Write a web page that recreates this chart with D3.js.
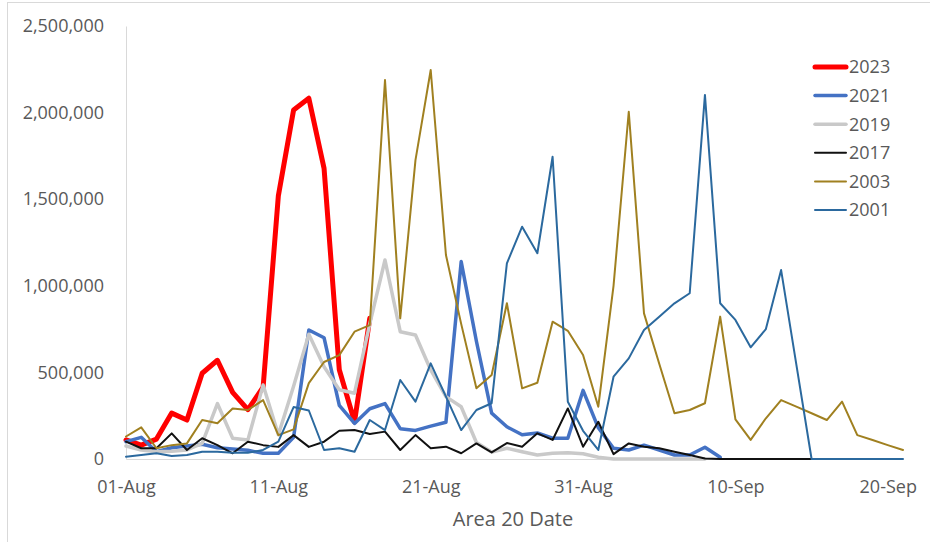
<html>
    <head>
        <style>
            body { margin: 0; background: #fff; }
            text { font-family: "Open Sans", sans-serif; fill: #595959; }
            .axis path { stroke: #d9d9d9; }
        </style>
        <script src="https://cdnjs.cloudflare.com/ajax/libs/d3/7.8.5/d3.min.js"></script>
    </head>
    <body>
        <script>
        var width = 930;
        var height = 542;

        // day index 0 = 01-Aug
        var xTickDays = [0, 10, 20, 30, 40, 50];
        var xTickLabels = ["01-Aug", "11-Aug", "21-Aug", "31-Aug", "10-Sep", "20-Sep"];
        var yTicks = [0, 500000, 1000000, 1500000, 2000000, 2500000];

        var years = ["2023", "2021", "2019", "2017", "2003", "2001"];
        var colors = ["#ff0000", "#4472c4", "#c9c9c9", "#111111", "#a08020", "#2b699e"];
        var widths = [5, 3.5, 3.5, 2, 2, 2];

        var v2023 = [110000, 80000, 115000, 265000, 225000, 495000, 570000, 385000, 285000, 415000,
            1520000, 2015000, 2083000, 1678000, 515000, 215000, 812000];
        var v2021 = [100000, 125000, 42000, 65000, 75000, 85000, 65000, 58000, 50000, 33000,
            33000, 125000, 745000, 700000, 310000, 205000, 290000, 320000, 175000, 165000,
            190000, 212000, 1140000, 680000, 265000, 186000, 140000, 150000, 120000, 120000,
            396000, 180000, 62000, 52000, 80000, 52000, 23000, 23000, 68000, 10000];
        var v2019 = [75000, 52000, 42000, 45000, 52000, 90000, 320000, 120000, 110000, 427000,
            140000, 420000, 720000, 533000, 400000, 380000, 780000, 1149000, 735000, 716000,
            514000, 360000, 302000, 95000, 40000, 62000, 42000, 23000, 33000, 36000,
            30000, 10000, 0, 0, 0, 0, 0, 0, 0];
        var v2017 = [100000, 62000, 62000, 148000, 52000, 120000, 80000, 33000, 100000, 80000,
            70000, 138000, 70000, 100000, 163000, 167000, 144000, 158000, 52000, 138000,
            62000, 71000, 33000, 90000, 38000, 92000, 71000, 148000, 110000, 292000,
            71000, 215000, 28000, 90000, 71000, 62000, 42000, 23000, 3000, 0,
            0, 0, 0, 0, 0, 0];
        var v2003 = [130000, 183000, 62000, 80000, 90000, 225000, 206000, 292000, 283000, 340000,
            138000, 171000, 438000, 560000, 600000, 735000, 773000, 2188000, 812000, 1726000,
            2246000, 1178000, 780000, 408000, 485000, 899000, 408000, 440000, 793000, 740000,
            600000, 302000, 1000000, 2005000, 841000, 550000, 264000, 283000, 322000, 822000,
            229000, 110000, 235000, 340000, 302000, 264000, 225000, 331000, 138000, 110000,
            80000, 52000];
        var v2001 = [13000, 23000, 33000, 17000, 23000, 42000, 42000, 36000, 36000, 52000,
            100000, 300000, 280000, 52000, 62000, 42000, 225000, 167000, 456000, 331000,
            552000, 360000, 167000, 283000, 322000, 1130000, 1341000, 1188000, 1745000, 331000,
            163000, 52000, 475000, 581000, 745000, 822000, 899000, 957000, 2102000, 899000,
            803000, 645000, 750000, 1091000, 545000, 0, 0, 0, 0, 0,
            0, 0];

        var seriesValues = [v2023, v2021, v2019, v2017, v2003, v2001];

        var svg = d3.select("body")
                    .append("svg")
                    .attr("width", width)
                    .attr("height", height);

        // outer chart frame
        svg.append("rect")
            .attr("x", 7.5)
            .attr("y", 2.5)
            .attr("width", 1000)
            .attr("height", 1000)
            .attr("fill", "none")
            .attr("stroke", "#d9d9d9");

        var x = d3.scaleLinear().domain([0, 51]).range([126, 903]);
        var y = d3.scaleLinear().domain([0, 2500000]).range([459, 26]);

        svg.append("g")
            .attr("class", "axis")
            .attr("transform", "translate(126,0)")
            .call(d3.axisLeft(y)
                .tickValues(yTicks)
                .tickFormat(d3.format(","))
                .tickSize(0)
                .tickPadding(22))
            .call(g => g.selectAll("text")
                .style("font-size", "18px")
                .style("font-family", "'Open Sans', sans-serif")
                .attr("fill", "#595959"));

        svg.append("g")
            .attr("class", "axis")
            .attr("transform", "translate(0,459)")
            .call(d3.axisBottom(x)
                .tickValues(xTickDays)
                .tickFormat((d, i) => xTickLabels[i])
                .tickSize(0)
                .tickPadding(21))
            .call(g => g.selectAll("text")
                .style("font-size", "18px")
                .style("font-family", "'Open Sans', sans-serif")
                .attr("fill", "#595959"));

        svg.append("text")
            .attr("x", 513)
            .attr("y", 526)
            .attr("text-anchor", "middle")
            .style("font-size", "20px")
            .text("Area 20 Date");

        var line = d3.line()
            .x((d, i) => x(i))
            .y(d => y(d));

        svg.append("g")
            .selectAll("path")
            .data(seriesValues)
            .enter()
            .append("path")
            .attr("d", line)
            .attr("fill", "none")
            .attr("stroke", (d, i) => colors[i])
            .attr("stroke-width", (d, i) => widths[i])
            .attr("stroke-linejoin", "round")
            .attr("stroke-linecap", "round");

        var legend = svg.append("g")
            .selectAll("g")
            .data(years)
            .enter()
            .append("g")
            .attr("transform", (d, i) => "translate(0," + (67 + i * 28.6) + ")");

        legend.append("line")
            .attr("x1", 815)
            .attr("x2", 846)
            .attr("stroke", (d, i) => colors[i])
            .attr("stroke-width", (d, i) => widths[i])
            .attr("stroke-linecap", "round");

        legend.append("text")
            .attr("x", 849)
            .attr("dy", "0.35em")
            .style("font-size", "18px")
            .text(d => d);
        </script>
    </body>
</html>
